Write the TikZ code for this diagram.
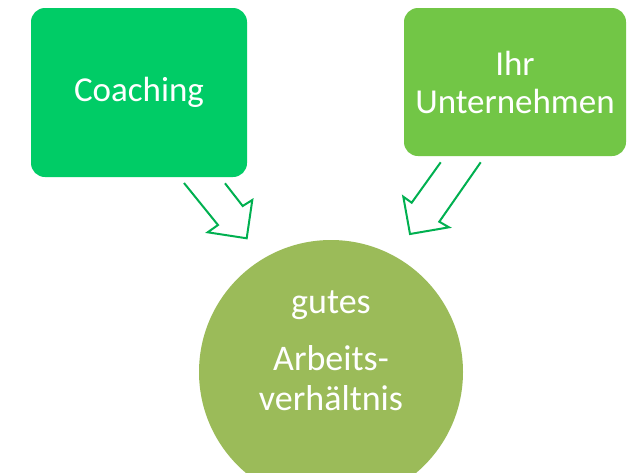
\documentclass[tikz,border=0pt]{standalone}
\usepackage{fontspec}
\setmainfont{Carlito}
\definecolor{coachgreen}{HTML}{00CC66}
\definecolor{firmgreen}{HTML}{72C646}
\definecolor{goalgreen}{HTML}{9BBB59}
\definecolor{arrowgreen}{HTML}{00B050}
\tikzset{
  box/.style={draw=none, rounded corners=14pt, inner sep=0pt, text=white,
    font=\fontsize{35}{38}\selectfont, align=center},
  goalcircle/.style={circle, fill=goalgreen, inner sep=0pt, minimum size=264pt},
  goaltxt/.style={text=white, font=\fontsize{36}{40}\selectfont, align=center, inner sep=0pt},
  blockarrow/.style={draw=arrowgreen, line width=2pt, line join=miter, fill=none}
}
\begin{document}
\begin{tikzpicture}[x=1pt, y=-1pt]
\clip (0,0) rectangle (630,472);
\fill[white] (0,0) rectangle (630,472);
\node[box, fill=coachgreen, minimum width=216pt, minimum height=169pt] (coach) at (139,92.5) {Coaching};
\node[box, fill=firmgreen, minimum width=222pt, minimum height=148pt] (firm) at (515,82) {Ihr\\Unternehmen};
\node[goalcircle] (goal) at (331,372) {};
\node[goaltxt] (goaltext) at (331,351) {gutes\\[17pt]Arbeits-\\verhältnis};
% left block arrow
\coordinate (la1) at (184,183);
\coordinate (la2) at (218,225);
\coordinate (la3) at (207.7,232.3);
\coordinate (la4) at (246.7,238.3);
\coordinate (la5) at (252.3,200);
\coordinate (la6) at (242.7,206);
\coordinate (la7) at (225,183.3);
\draw[blockarrow] (la1) -- (la2) -- (la3) -- (la4) -- (la5) -- (la6) -- (la7);
% right block arrow
\coordinate (ra1) at (440.7,162.3);
\coordinate (ra2) at (411.7,202.7);
\coordinate (ra3) at (403.3,196.7);
\coordinate (ra4) at (410,234);
\coordinate (ra5) at (449,227.3);
\coordinate (ra6) at (439.3,221.7);
\coordinate (ra7) at (480.7,162.3);
\draw[blockarrow] (ra1) -- (ra2) -- (ra3) -- (ra4) -- (ra5) -- (ra6) -- (ra7);
\end{tikzpicture}
\end{document}
